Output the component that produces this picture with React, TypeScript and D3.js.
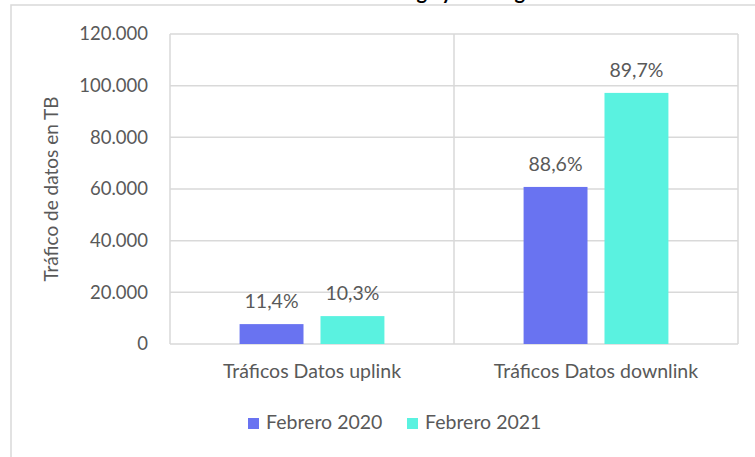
import React, { useEffect, useRef } from 'react';
import * as d3 from 'd3';

const width = 755;
const height = 457;
const padding = { left: 170, right: 17, top: 34, down: 113 };

const categories = ['Tráficos Datos uplink', 'Tráficos Datos downlink'];
const seriesNames = ['Febrero 2020', 'Febrero 2021'];
const feb2020 = [7700, 60800];
const feb2021 = [10800, 97200];
const labels2020 = ['11,4%', '88,6%'];
const labels2021 = ['10,3%', '89,7%'];
const yTicks = [0, 20000, 40000, 60000, 80000, 100000, 120000];
const colors = ['#6973f1', '#5af2e0'];

const titleText = 'Distribución del tráfico de carga y descarga de datos';
const yLabel = 'Tráfico de datos en TB';

const font = 'Lato, "Open Sans", sans-serif';
const textColor = '#595959';
const gridColor = '#d9d9d9';

export default function App() {
  const ref = useRef<SVGSVGElement>(null);

  useEffect(() => {
    const svg = d3.select(ref.current);
    svg.selectAll('*').remove();

    const esLocale = d3.formatLocale({ decimal: ',', thousands: '.', grouping: [3], currency: ['', '€'] });
    const fmt = esLocale.format(',.0f');

    const xScale = d3.scaleBand<string>()
      .domain(categories)
      .range([padding.left, width - padding.right]);

    const xInner = d3.scaleBand<string>()
      .domain(seriesNames)
      .range([0, xScale.bandwidth()])
      .paddingInner(0.21)
      .paddingOuter(0.86);

    const yScale = d3.scaleLinear()
      .domain([0, 120000])
      .range([height - padding.down, padding.top]);

    // outer chart frame (partly off-canvas)
    svg.append('rect')
      .attr('x', 11).attr('y', 5)
      .attr('width', 900).attr('height', 600)
      .attr('fill', 'none')
      .attr('stroke', gridColor)
      .attr('stroke-width', 1.5);

    // title, cut off at the top like in the source picture
    svg.append('text')
      .attr('x', 385).attr('y', -1)
      .attr('text-anchor', 'middle')
      .attr('font-family', font)
      .attr('font-weight', 'bold')
      .attr('font-size', 20)
      .attr('fill', '#000')
      .text(titleText);

    // gridlines
    svg.append('g')
      .selectAll('line')
      .data(yTicks)
      .join('line')
      .attr('x1', padding.left).attr('x2', width - padding.right)
      .attr('y1', d => yScale(d)).attr('y2', d => yScale(d))
      .attr('stroke', gridColor)
      .attr('stroke-width', 1.5);

    // vertical category borders
    const xEdges = [padding.left, ...categories.map(c => (xScale(c) as number) + xScale.bandwidth())];
    svg.append('g')
      .selectAll('line')
      .data(xEdges)
      .join('line')
      .attr('x1', d => d).attr('x2', d => d)
      .attr('y1', yScale(120000)).attr('y2', yScale(0))
      .attr('stroke', gridColor)
      .attr('stroke-width', 1.5);

    // y tick labels
    svg.append('g')
      .selectAll('text')
      .data(yTicks)
      .join('text')
      .attr('x', padding.left - 22)
      .attr('y', d => yScale(d))
      .attr('dy', '0.35em')
      .attr('text-anchor', 'end')
      .attr('font-family', font)
      .attr('font-size', 18.5)
      .attr('fill', textColor)
      .text(d => fmt(d));

    // y axis label
    svg.append('text')
      .attr('transform', `translate(51, ${(yScale(0) + yScale(120000)) / 2}) rotate(-90)`)
      .attr('text-anchor', 'middle')
      .attr('dy', '0.35em')
      .attr('font-family', font)
      .attr('font-size', 19)
      .attr('fill', textColor)
      .text(yLabel);

    // bars
    const seriesValues = [feb2020, feb2021];
    const seriesLabels = [labels2020, labels2021];
    seriesNames.forEach((s, si) => {
      const rows = categories.map((c, ci) => ({ c, v: seriesValues[si][ci], label: seriesLabels[si][ci] }));
      const g = svg.append('g');
      g.selectAll('rect')
        .data(rows)
        .join('rect')
        .attr('x', d => (xScale(d.c) as number) + (xInner(s) as number))
        .attr('y', d => yScale(d.v))
        .attr('width', xInner.bandwidth())
        .attr('height', d => yScale(0) - yScale(d.v))
        .attr('fill', colors[si]);

      g.selectAll('text')
        .data(rows)
        .join('text')
        .attr('x', d => (xScale(d.c) as number) + (xInner(s) as number) + xInner.bandwidth() / 2)
        .attr('y', d => yScale(d.v) - 16)
        .attr('text-anchor', 'middle')
        .attr('font-family', font)
        .attr('font-size', 19.5)
        .attr('fill', textColor)
        .text(d => d.label);
    });

    // category labels
    svg.append('g')
      .selectAll('text')
      .data(categories)
      .join('text')
      .attr('x', d => (xScale(d) as number) + xScale.bandwidth() / 2)
      .attr('y', 378)
      .attr('text-anchor', 'middle')
      .attr('font-family', font)
      .attr('font-size', 19.5)
      .attr('fill', textColor)
      .text(d => d);

    // legend
    const legendX = [248, 407];
    const legend = svg.append('g');
    seriesNames.forEach((s, i) => {
      legend.append('rect')
        .attr('x', legendX[i]).attr('y', 418)
        .attr('width', 11).attr('height', 11)
        .attr('fill', colors[i]);
      legend.append('text')
        .attr('x', legendX[i] + 18).attr('y', 429)
        .attr('font-family', font)
        .attr('font-size', 19.5)
        .attr('fill', textColor)
        .text(s);
    });
  }, []);

  return (
    <svg
      ref={ref}
      width={width}
      height={height}
      style={{ position: 'absolute', left: 0, top: 0, background: '#fff' }}
    />
  );
}
